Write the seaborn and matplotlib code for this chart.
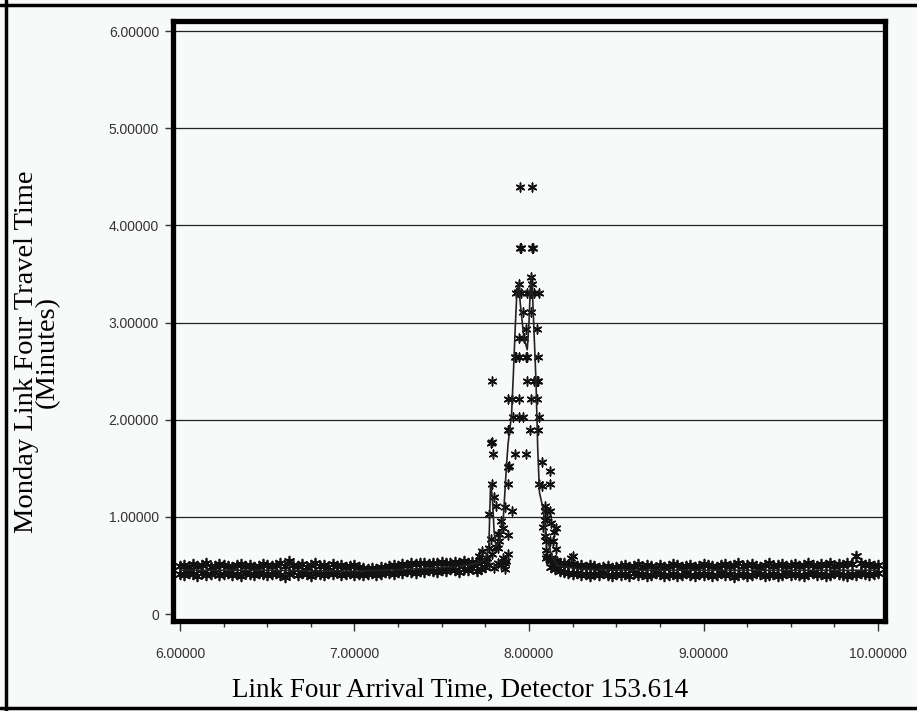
import numpy as np
import matplotlib
matplotlib.use("Agg")
import matplotlib.pyplot as plt
from matplotlib.lines import Line2D
import seaborn as sns

# ---------------- data ----------------
# baseline sampling clock (hours)
t_left = np.round(np.arange(6.0, 7.7501, 0.025), 3)     # 71 samples
t_right = np.round(np.arange(8.125, 10.0001, 0.025), 3)  # 76 samples

upper_left = [0.49, 0.50, 0.48, 0.51, 0.49, 0.50, 0.52, 0.48, 0.49, 0.51, 0.50, 0.49, 0.48, 0.50, 0.51, 0.49, 0.50, 0.48, 0.49, 0.51, 0.50,
              0.49, 0.50, 0.52, 0.49, 0.55, 0.50, 0.49, 0.51, 0.48, 0.50, 0.52, 0.49, 0.50, 0.48, 0.51, 0.49, 0.50, 0.48, 0.49, 0.50,
              0.48, 0.47, 0.46, 0.47, 0.46, 0.48, 0.47, 0.49, 0.50, 0.49, 0.51, 0.50, 0.52, 0.51, 0.53, 0.52, 0.51, 0.53, 0.52, 0.54,
              0.53, 0.52, 0.54, 0.53, 0.55, 0.52, 0.54, 0.53, 0.56, 0.55]
lower_left = [0.41, 0.40, 0.42, 0.41, 0.39, 0.42, 0.40, 0.41, 0.43, 0.40, 0.41, 0.42, 0.40, 0.41, 0.39, 0.42, 0.41, 0.40, 0.42, 0.41, 0.40,
              0.41, 0.42, 0.40, 0.38, 0.41, 0.43, 0.40, 0.42, 0.41, 0.39, 0.42, 0.41, 0.40, 0.42, 0.41, 0.43, 0.40, 0.41, 0.42, 0.40,
              0.41, 0.40, 0.41, 0.42, 0.40, 0.41, 0.43, 0.42, 0.41, 0.43, 0.42, 0.44, 0.43, 0.42, 0.44, 0.43, 0.45, 0.44, 0.43, 0.45,
              0.44, 0.46, 0.45, 0.43, 0.46, 0.45, 0.47, 0.44, 0.46, 0.48]
upper_right = [0.58, 0.55, 0.53, 0.52, 0.50, 0.51, 0.49, 0.50, 0.48, 0.50, 0.49, 0.47, 0.48, 0.49, 0.47, 0.48,
               0.49, 0.50, 0.48, 0.49, 0.51, 0.48, 0.50, 0.49, 0.47, 0.50, 0.48, 0.49, 0.51, 0.50, 0.48, 0.49, 0.50, 0.48, 0.49, 0.51,
               0.50, 0.49, 0.48, 0.50, 0.51, 0.49, 0.50, 0.52, 0.49, 0.50, 0.51, 0.49, 0.48, 0.50, 0.52, 0.49, 0.50, 0.51, 0.49, 0.50,
               0.51, 0.49, 0.50, 0.52, 0.50, 0.49, 0.51, 0.50, 0.52, 0.49, 0.51, 0.50, 0.53, 0.51, 0.60, 0.52, 0.50, 0.51, 0.49, 0.50]
lower_right = [0.48, 0.46, 0.44, 0.43, 0.42, 0.41, 0.42, 0.40, 0.41, 0.39, 0.41, 0.40, 0.42, 0.40, 0.39, 0.41,
               0.40, 0.41, 0.39, 0.42, 0.40, 0.41, 0.39, 0.40, 0.42, 0.41, 0.39, 0.40, 0.41, 0.39, 0.40, 0.42, 0.40, 0.39, 0.41, 0.40,
               0.41, 0.39, 0.40, 0.42, 0.40, 0.41, 0.38, 0.40, 0.41, 0.39, 0.40, 0.42, 0.41, 0.39, 0.40, 0.41, 0.39, 0.40, 0.42, 0.40,
               0.41, 0.40, 0.39, 0.41, 0.42, 0.40, 0.41, 0.39, 0.40, 0.42, 0.41, 0.40, 0.39, 0.41, 0.40, 0.42, 0.41, 0.40, 0.41, 0.42]

# congestion peak observations
peak_x = [7.950, 8.020, 7.947, 7.952, 8.017, 8.022,
          7.928, 7.935, 7.957, 7.986, 8.003, 8.009, 8.030, 8.060,
          7.940, 8.010, 8.015, 7.963, 8.009,
          7.980, 8.043, 7.940, 7.974,
          7.917, 7.928, 7.940, 7.980, 7.986, 8.054,
          7.790, 7.986, 8.030, 8.043, 8.049,
          7.877, 7.905, 7.945, 8.014, 8.043,
          7.911, 7.940, 7.963, 8.060,
          7.882, 7.888, 8.003, 8.049,
          7.785, 7.790,
          7.796, 7.917, 7.980,
          7.882, 7.888, 8.077,
          7.790, 7.882, 8.060, 8.077, 8.118, 8.118,
          7.800, 7.810, 7.865, 7.900, 7.773, 8.090, 8.118, 8.106, 8.127, 8.156,
          7.840, 7.850, 7.820, 7.877, 7.780, 7.830, 7.810, 7.773, 7.850, 7.820,
          7.733, 7.716, 8.099, 8.135, 8.106, 8.156, 8.250, 8.090, 8.094, 7.830,
          7.820, 7.860, 8.100, 8.118, 8.146, 8.240, 7.760, 7.790, 7.870, 7.880,
          8.080, 8.090, 8.100, 8.120, 8.140, 7.750, 7.770, 7.800, 7.840, 7.860,
          8.160, 8.180]
peak_y = [4.39, 4.39, 3.77, 3.77, 3.77, 3.77,
          3.30, 3.31, 3.30, 3.30, 3.30, 3.30, 3.30, 3.30,
          3.40, 3.47, 3.40, 3.11, 3.11,
          2.93, 2.93, 2.84, 2.84,
          2.64, 2.64, 2.64, 2.64, 2.64, 2.64,
          2.40, 2.40, 2.40, 2.40, 2.40,
          2.21, 2.21, 2.21, 2.21, 2.21,
          2.03, 2.03, 2.03, 2.03,
          1.89, 1.89, 1.89, 1.89,
          1.76, 1.77,
          1.65, 1.65, 1.65,
          1.51, 1.52, 1.56,
          1.34, 1.34, 1.34, 1.32, 1.34, 1.47,
          1.20, 1.11, 1.10, 1.06, 1.03, 1.11, 1.06, 0.99, 0.94, 0.88,
          0.96, 0.88, 0.82, 0.81, 0.77, 0.75, 0.69, 0.68, 0.58, 0.52,
          0.65, 0.60, 0.75, 0.75, 0.60, 0.67, 0.60, 1.06, 0.97, 0.82,
          0.68, 0.53, 0.58, 0.75, 0.84, 0.58, 0.58, 0.62, 0.55, 0.62,
          0.90, 0.80, 0.66, 0.55, 0.52, 0.55, 0.50, 0.47, 0.50, 0.46,
          0.55, 0.50]

# fitted travel-time curve
line_x = [6.00, 6.50, 7.00, 7.30, 7.60, 7.70, 7.74, 7.76, 7.77, 7.78, 7.79, 7.80, 7.81, 7.83, 7.85,
          7.86, 7.87, 7.88, 7.90, 7.91, 7.92, 7.93, 7.94, 7.95, 7.97, 7.99, 8.00, 8.01, 8.02, 8.04,
          8.05, 8.06, 8.08, 8.10, 8.13, 8.16, 8.30, 8.60, 9.00, 9.50, 10.00]
line_y = [0.45, 0.45, 0.44, 0.46, 0.49, 0.52, 0.55, 0.62, 0.70, 1.35, 1.20, 0.85, 0.70, 0.75, 0.90,
          1.20, 1.50, 1.75, 2.05, 2.45, 2.90, 3.30, 3.40, 3.20, 2.85, 2.72, 3.00, 3.47, 3.30, 2.40,
          1.70, 1.25, 1.09, 0.80, 0.60, 0.50, 0.46, 0.45, 0.45, 0.45, 0.45]

x_ticks = [6, 7, 8, 9, 10]
x_tick_labels = ["6.00000", "7.00000", "8.00000", "9.00000", "10.00000"]
y_ticks = [0, 1, 2, 3, 4, 5, 6]
y_tick_labels = ["0", "1.00000", "2.00000", "3.00000", "4.00000", "5.00000", "6.00000"]

# ---------------- plot ----------------
sns.set_style("white")
bg = "#f7faf8"
W, H = 917, 711
fig = plt.figure(figsize=(W / 100, H / 100), dpi=100, facecolor=bg)
ax = fig.add_axes([173 / W, 1 - 621 / H, 712 / W, 600 / H], facecolor=bg)

mk = (6, 2, 0)
mcol = "#111111"
for tx, vals in [(t_left, upper_left), (t_left, lower_left), (t_right, upper_right), (t_right, lower_right)]:
    sns.scatterplot(x=tx, y=vals, ax=ax, marker=mk, s=50, color=mcol, linewidth=1.25, zorder=3)
sns.scatterplot(x=peak_x, y=peak_y, ax=ax, marker=mk, s=40, color=mcol, linewidth=1.1, zorder=3)
sns.lineplot(x=line_x, y=line_y, ax=ax, color="#222222", lw=1.2, estimator=None, sort=False, zorder=4)

ax.set_xlim(5.960, 10.040)
ax.set_ylim(-0.072, 6.103)

for y in y_ticks[1:]:
    ax.axhline(y, color="#222222", lw=0.9, zorder=1)

ax.set_xticks(x_ticks)
ax.set_xticklabels(x_tick_labels)
ax.set_xticks(np.arange(6, 10.001, 0.25), minor=True)
ax.set_yticks(y_ticks)
ax.set_yticklabels(y_tick_labels)
ax.tick_params(axis="x", which="major", direction="out", length=7, width=1, color="#333333",
               labelsize=10, labelcolor="#333333", pad=11.5, bottom=True)
ax.tick_params(axis="x", which="minor", direction="out", length=4, width=1, color="#333333", bottom=True)
ax.tick_params(axis="y", which="major", direction="out", length=6, width=1, color="#333333",
               labelsize=10, labelcolor="#333333", pad=4, left=True)
for lab in ax.get_xticklabels() + ax.get_yticklabels():
    lab.set_fontfamily("Liberation Sans")

for sp in ax.spines.values():
    sp.set_visible(True)
    sp.set_color("black")
    sp.set_linewidth(3.8)

ax.set_xlabel("")
ax.set_ylabel("")
fig.text(460 / W, 1 - 690 / H, "Link Four Arrival Time, Detector 153.614", ha="center", va="center",
         fontsize=19.5, family="Liberation Serif", color="black")
fig.text(37 / W, 1 - 352 / H, "Monday Link Four Travel Time\n(Minutes)", ha="center", va="center",
         rotation=90, fontsize=20.5, family="Liberation Serif", color="black", linespacing=0.8,
         multialignment="center")

# outer frame of the figure
for (xs, ys) in [([6 / W, 6 / W], [0, 1]), ([0, 1], [1 - 5 / H, 1 - 5 / H]), ([0, 1], [1 - 708 / H, 1 - 708 / H])]:
    fig.add_artist(Line2D(xs, ys, transform=fig.transFigure, color="black", lw=2.5))

fig.savefig("out.png", dpi=100, facecolor=bg)
